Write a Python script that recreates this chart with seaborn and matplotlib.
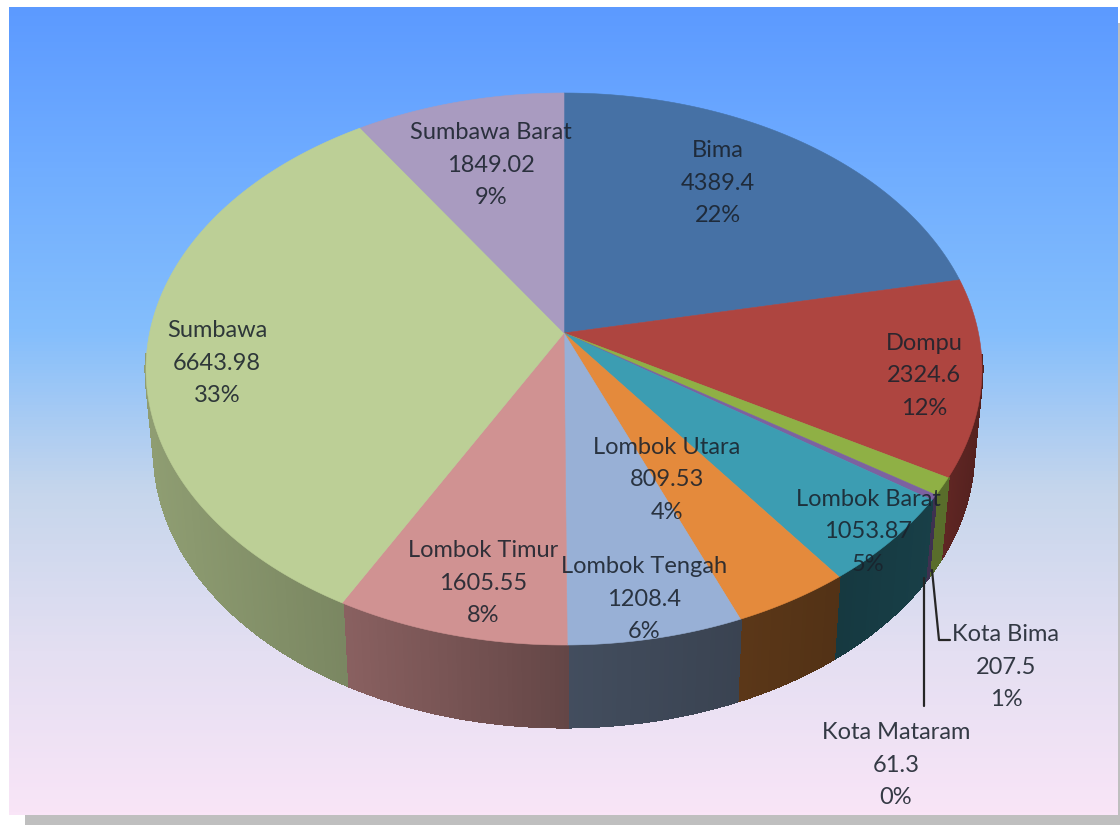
import numpy as np
import pandas as pd
import matplotlib
matplotlib.use("Agg")
import matplotlib.pyplot as plt
import seaborn as sns

# ---- data (clockwise from 12 o'clock) ----
regions = ["Bima", "Dompu", "Kota Bima", "Kota Mataram", "Lombok Barat",
           "Lombok Utara", "Lombok Tengah", "Lombok Timur", "Sumbawa", "Sumbawa Barat"]
values = [4389.4, 2324.6, 207.5, 61.3, 1053.87, 809.53, 1208.4, 1605.55, 6643.98, 1849.02]
percent_labels = ["22%", "12%", "1%", "0%", "5%", "4%", "6%", "8%", "33%", "9%"]

# ---- styles ----
face_colors = ["#4671A5", "#AE4540", "#8FB045", "#7C62A0", "#3C9DB2",
               "#E48A3C", "#98B0D6", "#D09292", "#BCCF96", "#A99BC0"]
side_left = [.5, .55, .62, .5, .36, .40, .44, .66, .76, .6]
side_right = [.5, .48, .62, .5, .40, .36, .38, .48, .64, .6]
label_xy = [(718, 183), (924, 376), (1006, 667), (896, 765), (868, 532),
            (667, 480), (644, 599), (483, 583), (217, 363), (491, 165)]
bg_stops = ["#5C9AFF", "#70ADFF", "#84BEFC", "#C6D6EC", "#E4DFF2", "#F9E5F7"]

W, H = 1120, 825
sns.set_theme(style="white")
plt.rcParams["font.family"] = ["Lato", "DejaVu Sans"]

df = pd.DataFrame({"region": regions, "value": values, "pct": percent_labels})
palette = sns.color_palette(face_colors)

fig = plt.figure(figsize=(W / 100, H / 100), dpi=100, facecolor="white")
ax = fig.add_axes([0, 0, 1, 1])
ax.set_xlim(0, W)
ax.set_ylim(H, 0)
ax.axis("off")

# shadow and gradient panel
ax.fill_between([25, W], 23, H, color="#BFBFBF", lw=0, zorder=0)
cmap = sns.blend_palette(bg_stops, n_colors=256, as_cmap=True)
ax.imshow(np.linspace(0, 1, 256)[:, None], cmap=cmap, aspect="auto",
          extent=(9, 1118, 815, 7), zorder=1)
ax.set_xlim(0, W)
ax.set_ylim(H, 0)

# perspective projection of a circle (apex sits above the ellipse centre)
CX, CY, RX, RY = 564, 369, 418, 276
APEX = (333 - CY) / RY
DEPTH, BOTTOM_SCALE = 82, 0.98


def project(theta, r=1.0, bottom=False):
    u, v = r * np.sin(theta), -r * np.cos(theta)
    d = 1 + APEX * v
    px = u * np.sqrt(1 - APEX ** 2) / d
    py = (v + APEX) / d
    if bottom:
        return CX + RX * BOTTOM_SCALE * px, CY + DEPTH + RY * py
    return CX + RX * px, CY + RY * py


edges = np.r_[0, np.cumsum(df["value"])] / df["value"].sum() * 2 * np.pi

# side walls, front half of the rim only
for i in range(len(df)):
    a0, a1 = edges[i], edges[i + 1]
    n = max(3, int((a1 - a0) / 0.01))
    th = np.linspace(a0, a1, n + 1)
    xs = project(th)[0]
    span = max(xs.max() - xs.min(), 1)
    for t0, t1 in zip(th[:-1], th[1:]):
        if np.cos((t0 + t1) / 2) > -0.08:
            continue
        x0, y0 = project(t0)
        x1, y1 = project(t1)
        x2, y2 = project(t1, bottom=True)
        x3, y3 = project(t0, bottom=True)
        f = (((x0 + x1) / 2) - xs.min()) / span
        shade = side_left[i] + (side_right[i] - side_left[i]) * f
        col = tuple(c * shade for c in palette[i])
        ax.fill([x0, x1, x2, x3], [y0, y1, y2, y3], color=col, lw=1.5,
                antialiased=False, zorder=2)

# top faces
for i in range(len(df)):
    th = np.linspace(edges[i], edges[i + 1], 200)
    x, y = project(th)
    ax.fill(np.r_[project(0.0, 0.0)[0], x], np.r_[project(0.0, 0.0)[1], y],
            color=palette[i], lw=0.4, zorder=3)

# leader lines
leader = "#262626"
ax.plot([932, 939, 950], [570, 640, 640], color=leader, lw=1.6, zorder=4)
ax.plot([924, 924], [578, 706], color=leader, lw=1.6, zorder=4)

# labels
for (name, val, pct), (lx, ly) in zip(df[["region", "value", "pct"]].values, label_xy):
    ax.text(lx, ly, f"{name}\n{val:g}\n{pct}", ha="center", va="center",
            fontsize=17, color="#1A222C", alpha=0.88, linespacing=1.66, zorder=5)

fig.savefig("out.png", dpi=100, facecolor="white")
